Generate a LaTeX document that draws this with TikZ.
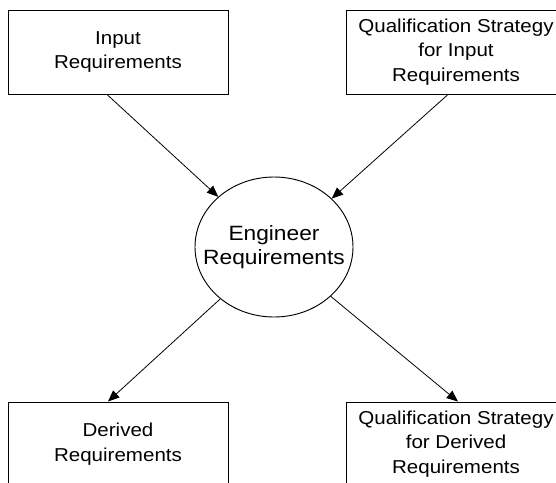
\documentclass[tikz,border=0pt]{standalone}
\usepackage{fontspec}
\setmainfont{Liberation Sans}[FakeStretch=1.1]
\usetikzlibrary{arrows.meta}
\usetikzlibrary{shapes.geometric}
\tikzset{every picture/.style={x=0.75pt,y=-0.75pt,font=\fontsize{14pt}{18.5pt}\selectfont},
reqbox/.style={draw,line width=0.7pt,minimum width=165pt,minimum height=63pt,align=center,inner sep=0pt},
engoval/.style={draw,ellipse,line width=0.7pt,minimum width=118.5pt,minimum height=105pt,align=center,inner xsep=-12pt,inner ysep=0pt,font=\fontsize{15.5pt}{18.5pt}\selectfont},
flow/.style={line width=0.6pt,-{Triangle[length=8.5pt,width=7pt]}}}

\begin{document}
\begin{tikzpicture}
\useasboundingbox (0,0) rectangle (556,482);
\node[reqbox] (inreq) at (118,52) {Input\\Requirements};
\node[reqbox] (qualin) at (456,52) {Qualification Strategy\\for Input\\Requirements};
\node[engoval] (eng) at (274,247) {Engineer\\Requirements};
\node[reqbox] (derreq) at (118,444) {Derived\\Requirements};
\node[reqbox] (qualder) at (456,444) {Qualification Strategy\\for Derived\\Requirements};
\draw[flow] ([xshift=-8.25pt]inreq.south) -- (eng.138);
\draw[flow] ([xshift=-6pt]qualin.south) -- (eng.40);
\draw[flow] (eng.224) -- ([xshift=-7.5pt]derreq.north);
\draw[flow] (eng.319) -- ([xshift=1.5pt]qualder.north);
\end{tikzpicture}
\end{document}
